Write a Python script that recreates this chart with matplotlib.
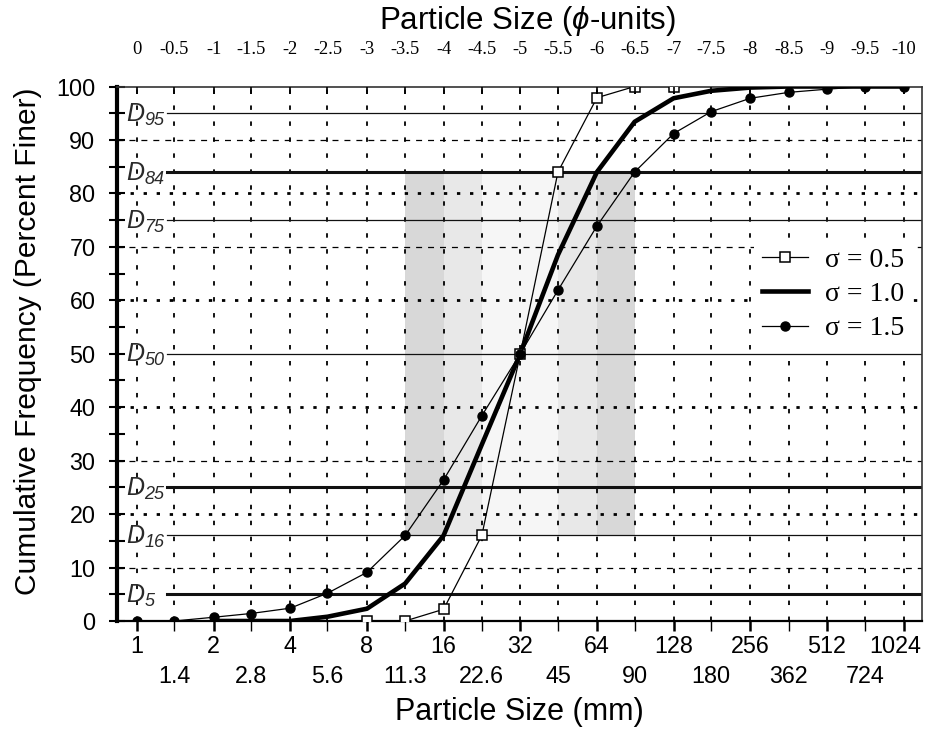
import matplotlib
matplotlib.use("Agg")
import matplotlib.pyplot as plt
from matplotlib.transforms import ScaledTranslation
import numpy as np

# ---------------- data ----------------
sizes = [1, 1.4, 2, 2.8, 4, 5.6, 8, 11.3, 16, 22.6, 32, 45, 64, 90, 128,
         180, 256, 362, 512, 724, 1024]
major_sizes = [1, 2, 4, 8, 16, 32, 64, 128, 256, 512, 1024]
major_labels = ["1", "2", "4", "8", "16", "32", "64", "128", "256", "512", "1024"]
minor_sizes = [1.4, 2.8, 5.6, 11.3, 22.6, 45, 90, 180, 362, 724]
minor_labels = ["1.4", "2.8", "5.6", "11.3", "22.6", "45", "90", "180", "362", "724"]

phi_labels = ["0", "-0.5", "-1", "-1.5", "-2", "-2.5", "-3", "-3.5", "-4",
              "-4.5", "-5", "-5.5", "-6", "-6.5", "-7", "-7.5", "-8", "-8.5",
              "-9", "-9.5", "-10"]

# sigma = 0.5 (open squares)
sizes_s05 = [8, 11.3, 16, 22.6, 32, 45, 64, 90, 128]
freq_s05 = [0, 0, 2.2, 16, 50, 84, 97.9, 100, 100]

# sigma = 1.0 (thick line)
sizes_s10 = [2, 2.8, 4, 5.6, 8, 11.3, 16, 22.6, 32, 45, 64, 90, 128, 180,
             256, 362, 512, 724, 1024]
freq_s10 = [0, 0, 0, 0.8, 2.3, 7.0, 16, 33, 50, 68.5, 84, 93.4, 97.8, 99.2,
            99.8, 100, 100, 100, 100]

# sigma = 1.5 (filled circles)
sizes_s15 = sizes
freq_s15 = [0, 0, 0.7, 1.4, 2.4, 5.2, 9.1, 16, 26.4, 38.4, 50, 61.9, 73.9,
            84, 91.2, 95.3, 97.8, 98.9, 99.5, 100, 100]

d_values = [95, 84, 75, 50, 25, 16, 5]
d_labels = ["95", "84", "75", "50", "25", "16", "5"]
d_thick = [False, True, False, False, True, False, True]

band_edges = [11.3, 16, 22.6, 45, 64, 90]
band_colors = ["#d8d8d8", "#e8e8e8", "#f6f6f6", "#e8e8e8", "#d8d8d8"]
band_low, band_high = 16, 84

# ---------------- style ----------------
plt.rcParams["font.family"] = ["Liberation Sans", "DejaVu Sans"]
plt.rcParams["mathtext.fontset"] = "custom"
plt.rcParams["mathtext.rm"] = "Liberation Sans"
plt.rcParams["mathtext.it"] = "Liberation Sans:italic"
plt.rcParams["lines.scale_dashes"] = False

fig = plt.figure(figsize=(9.28, 7.33), dpi=100)
ax = fig.add_axes([117 / 928, 1 - 621 / 733, 805 / 928, (621 - 86.5) / 733])
ax.set_xscale("log", base=2)
xlim = (2 ** -0.26, 2 ** 10.24)
ax.set_xlim(*xlim)
ax.set_ylim(0, 100)

# shaded bands
for i, c in enumerate(band_colors):
    ax.fill_between([band_edges[i], band_edges[i + 1]], band_low, band_high,
                    color=c, lw=0, zorder=0)

# vertical grid
for s in sizes:
    ax.axvline(s, color="black", lw=1.3, dashes=(3.2, 8.3), zorder=1)
# horizontal grid
for y in [10, 30, 70, 90]:
    ax.axhline(y, color="black", lw=0.9, dashes=(4.3, 4.3), zorder=1)
for y in [20, 40, 60, 80]:
    ax.axhline(y, color="black", lw=2.0, dashes=(2.4, 7.0), zorder=1)

# D lines and labels
ytr = ax.get_yaxis_transform()
for d, lab, thick in zip(d_values, d_labels, d_thick):
    ax.axhline(d, xmin=0.062, xmax=1, color="#111111",
               lw=2.2 if thick else 0.9, zorder=2)
    ax.text(0.011, d - 1.4, "D", fontsize=18, style="italic",
            transform=ytr, ha="left", va="baseline", color="#2a2a2a", zorder=3)
    ax.annotate(lab, xy=(0.011, d - 1.4), xycoords=ytr,
                xytext=(13.2, -3.0), textcoords="offset points",
                fontsize=13, style="italic", ha="left", va="baseline",
                color="#2a2a2a", zorder=3)

# data series
ax.plot(sizes_s05, freq_s05, color="black", lw=0.9, marker="s", ms=7,
        mfc="white", mec="black", mew=1.1, zorder=5, label="σ = 0.5")
ax.plot(sizes_s10, freq_s10, color="black", lw=3.3, zorder=4,
        solid_joinstyle="round", label="σ = 1.0")
ax.plot(sizes_s15, freq_s15, color="black", lw=0.9, marker="o", ms=6.5,
        zorder=5, label="σ = 1.5")

leg = ax.legend(loc="upper left", bbox_to_anchor=(0.791, 0.714),
                frameon=True, facecolor="white", edgecolor="none",
                framealpha=1.0, fancybox=False, borderpad=0.3,
                borderaxespad=0, handlelength=1.65, handletextpad=0.6,
                labelspacing=0.31,
                prop={"family": "Liberation Serif", "size": 20})
leg.set_zorder(10)

# bottom axis ticks
ax.set_xticks(major_sizes, major_labels)
ax.set_xticks(minor_sizes, minor_labels, minor=True)
ax.tick_params(axis="x", which="major", direction="out", length=7, width=1.8,
               pad=3, labelsize=16.8, top=False)
ax.tick_params(axis="x", which="minor", direction="out", length=7, width=1.0,
               pad=25, labelsize=16.8, top=False)

# y ticks
ax.set_yticks(range(0, 101, 10))
ax.set_yticks(range(5, 100, 10), minor=True)
ax.tick_params(axis="y", which="both", direction="inout", length=12,
               width=1.5, pad=9.5, labelsize=16.8, right=False)

for side, w in [("left", 3.0), ("bottom", 1.6), ("top", 1.2), ("right", 1.2)]:
    ax.spines[side].set_linewidth(w)
ax.spines["top"].set_color("#333333")
ax.spines["right"].set_color("#333333")

ax.set_xlabel("Particle Size (mm)", fontsize=22)
ax.xaxis.set_label_coords(0.5, -0.142)
ax.set_ylabel("Cumulative Frequency (Percent Finer)", fontsize=21.5)
ax.yaxis.set_label_coords(-0.093, 0.524)

# top phi axis (same log2 scale, labelled in phi units)
top = ax.twiny()
top.set_xscale("log", base=2)
top.set_xlim(*xlim)
top.set_xticks(sizes, phi_labels)
top.xaxis.set_minor_locator(matplotlib.ticker.NullLocator())
top.tick_params(axis="x", direction="in", length=5, width=1.2, pad=20.5,
                labelsize=13.3)
for lbl in top.get_xticklabels():
    lbl.set_fontfamily("Liberation Serif")
for side in ["top", "right", "left", "bottom"]:
    top.spines[side].set_visible(False)
top.set_xlabel(r"Particle Size ($\mathit{\phi}$-units)", fontsize=22.5)
top.xaxis.set_label_coords(0.51, 1.108)

# nudge the right-most bottom label inward like the reference
fig.canvas.draw()
shift = ScaledTranslation(-0.08, 0, fig.dpi_scale_trans)
for t in ax.xaxis.get_major_ticks()[-1:]:
    t.label1.set_transform(t.label1.get_transform() + shift)

fig.savefig("out.png", dpi=100)
